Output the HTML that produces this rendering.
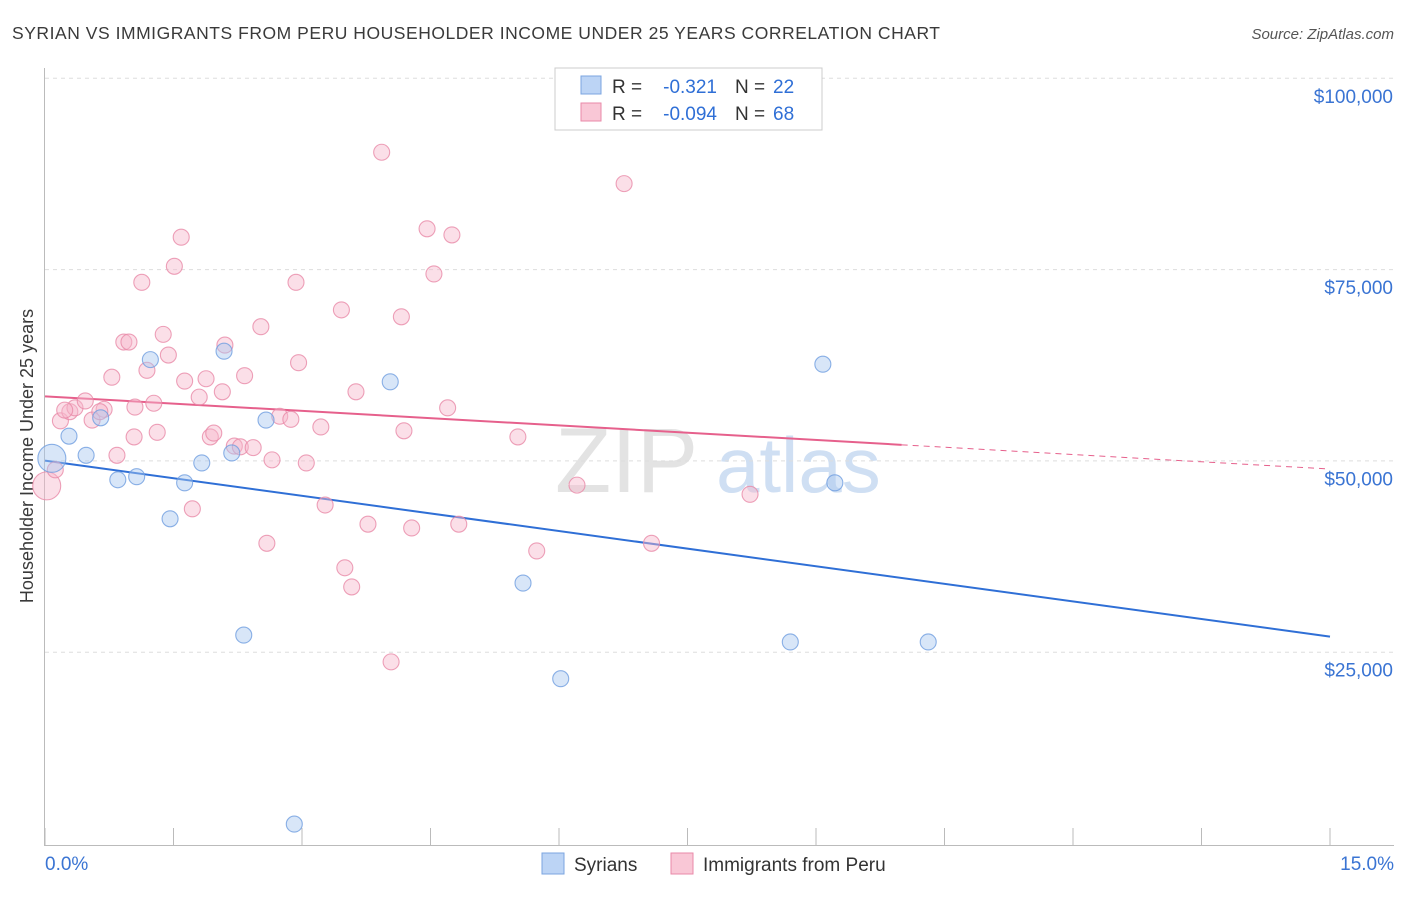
<!DOCTYPE html>
<html><head><meta charset="utf-8"><style>
body{margin:0;background:#fff;font-family:"Liberation Sans",sans-serif;}
svg text{font-family:"Liberation Sans",sans-serif;}
</style></head><body>
<svg id="chart" width="1406" height="892" xmlns="http://www.w3.org/2000/svg">
<text x="12" y="39" font-size="17.5" fill="#3a3a3a" textLength="928">SYRIAN VS IMMIGRANTS FROM PERU HOUSEHOLDER INCOME UNDER 25 YEARS CORRELATION CHART</text>
<text x="1394" y="39" font-size="15" fill="#555" font-style="italic" text-anchor="end">Source: ZipAtlas.com</text>
<text transform="translate(33,456) rotate(-90)" font-size="18" fill="#3a3a3a" text-anchor="middle">Householder Income Under 25 years</text>
<g>
<text x="555" y="492" font-size="92" fill="#e3e3e3" font-family="Liberation Serif">ZIP</text>
<text x="716" y="492" font-size="78" fill="#cfdff3">atlas</text>
</g>
<g id="grid"></g><g id="axes"></g><g id="lines"></g><g id="pts"></g>
<g>
<rect x="555" y="68" width="267" height="62" fill="#fff" stroke="#ccc"/>
<rect x="581" y="76" width="20" height="18" fill="#bcd4f5" stroke="#7ba5e0"/>
<rect x="581" y="103" width="20" height="18" fill="#f9c7d6" stroke="#e98aa8"/>
<text x="612" y="93" font-size="19" fill="#333">R =</text>
<text x="717" y="93" font-size="19" fill="#2f6fd6" text-anchor="end">-0.321</text>
<text x="735" y="93" font-size="19" fill="#333">N =</text>
<text x="773" y="93" font-size="19" fill="#2f6fd6">22</text>
<text x="612" y="120" font-size="19" fill="#333">R =</text>
<text x="717" y="120" font-size="19" fill="#2f6fd6" text-anchor="end">-0.094</text>
<text x="735" y="120" font-size="19" fill="#333">N =</text>
<text x="773" y="120" font-size="19" fill="#2f6fd6">68</text>
</g>
<g>
<rect x="542" y="853" width="22" height="21" fill="#bcd4f5" stroke="#7ba5e0"/>
<text x="574" y="871" font-size="19" fill="#333">Syrians</text>
<rect x="671" y="853" width="22" height="21" fill="#f9c7d6" stroke="#e98aa8"/>
<text x="703" y="871" font-size="19" fill="#333">Immigrants from Peru</text>
</g>
</svg>
<script>
const yTicks=[25,50,75,100];
const yTickLabels=["$25,000","$50,000","$75,000","$100,000"];
const xTickLabels=["0.0%","15.0%"];
const syrX=[0.08,0.28,0.48,0.65,0.85,1.07,1.23,1.46,1.63,1.83,2.09,2.18,2.32,2.58,2.91,4.03,5.58,6.02,8.70,9.08,9.22,10.31];
const syrY=[50.4,53.3,50.8,55.7,47.6,48.0,63.3,42.5,47.2,49.8,64.4,51.1,27.3,55.4,2.6,60.4,34.1,21.6,26.4,62.7,47.2,26.4];
const peruX=[0.02,0.12,0.18,0.29,0.35,0.47,0.55,0.69,0.78,0.84,0.92,0.98,1.04,1.13,1.19,1.27,1.31,1.38,1.44,1.51,1.59,1.63,1.72,1.80,1.88,1.93,1.97,2.07,2.10,2.21,2.28,2.33,2.43,2.52,2.59,2.65,2.74,2.87,2.93,2.96,3.05,3.22,3.27,3.46,3.50,3.58,3.63,3.77,3.93,4.04,4.16,4.19,4.28,4.46,4.54,4.70,4.75,4.83,5.52,5.74,6.21,6.76,7.08,8.23,0.64,1.05,0.23];
const peruY=[46.8,48.9,55.3,56.5,57.0,57.9,55.4,56.8,61.0,50.8,65.6,65.6,53.2,73.4,61.9,57.6,53.8,66.6,63.9,75.5,79.3,60.5,43.8,58.4,60.8,53.2,53.7,59.1,65.2,52.0,51.9,61.2,51.8,67.6,39.3,50.2,55.9,55.5,73.4,62.9,49.8,54.5,44.3,69.8,36.1,33.6,59.1,41.8,90.4,23.8,68.9,54.0,41.3,80.4,74.5,57.0,79.6,41.8,53.2,38.3,46.9,86.3,39.3,45.7,56.5,57.1,56.7];
const syrLine=[50.1,27.1];
const peruLine=[58.5,49.0];
const peruSolidEnd=10.0;
const X=v=>45+v/15*1285;
const Y=v=>844-v*7.652;
const NS="http://www.w3.org/2000/svg";
function mk(t,a,p){const e=document.createElementNS(NS,t);for(const k in a)e.setAttribute(k,a[k]);p.appendChild(e);return e;}
const grid=document.getElementById('grid'),axes=document.getElementById('axes'),lines=document.getElementById('lines'),pts=document.getElementById('pts');
yTicks.forEach((t,i)=>{
 const g=mk('line',{x1:45,x2:1394,y1:Y(t)-0.5,y2:Y(t)-0.5,stroke:'#ddd','stroke-dasharray':'4,4'},grid);
 
 
 const l=mk('text',{x:1393,y:Y(t)+24,'font-size':19,fill:'#3a74d3','text-anchor':'end'},axes);
 l.textContent=yTickLabels[i];
 
 
});
const ax=mk('line',{x1:44.5,x2:44.5,y1:68,y2:845,stroke:'#bbb'},axes);


const bx=mk('line',{x1:44,x2:1394,y1:845.5,y2:845.5,stroke:'#bbb'},axes);


for(let i=0;i<=10;i++){const v=i*1.5;
 const tk=mk('line',{x1:X(v),x2:X(v),y1:828,y2:845,stroke:'#bbb'},axes);
 
 
}
[[0,'start',45],[15,'end',1394]].forEach((d,i)=>{
 const t=mk('text',{x:d[2],y:870,'font-size':19,fill:'#3a74d3','text-anchor':d[1]},axes);
 t.textContent=xTickLabels[i];
 
 
});
function dot(x,y,r,f,s,n){const c=mk('circle',{cx:X(x),cy:Y(y),r:r,fill:f,'fill-opacity':0.45,stroke:s,'stroke-width':1.1,'stroke-opacity':0.8},pts);
 
 }
peruX.forEach((x,i)=>dot(x,peruY[i],i==0?14:8,'#f7b9cc','#e98aa8','peru-point'));
syrX.forEach((x,i)=>dot(x,syrY[i],i==0?14:8,'#a9c7f0','#6f9ee0','syrian-point'));
const bl=mk('line',{x1:X(0),y1:Y(syrLine[0]),x2:X(15),y2:Y(syrLine[1]),stroke:'#2f6fd6','stroke-width':2},lines);


const py=x=>peruLine[0]+(peruLine[1]-peruLine[0])*x/15;
const pl=mk('line',{x1:X(0),y1:Y(py(0)),x2:X(peruSolidEnd),y2:Y(py(peruSolidEnd)),stroke:'#e6608c','stroke-width':2},lines);


const pd=mk('line',{x1:X(peruSolidEnd),y1:Y(py(peruSolidEnd)),x2:X(15),y2:Y(py(15)),stroke:'#e6608c','stroke-width':1,'stroke-dasharray':'6,5'},lines);


</script>
</body></html>
